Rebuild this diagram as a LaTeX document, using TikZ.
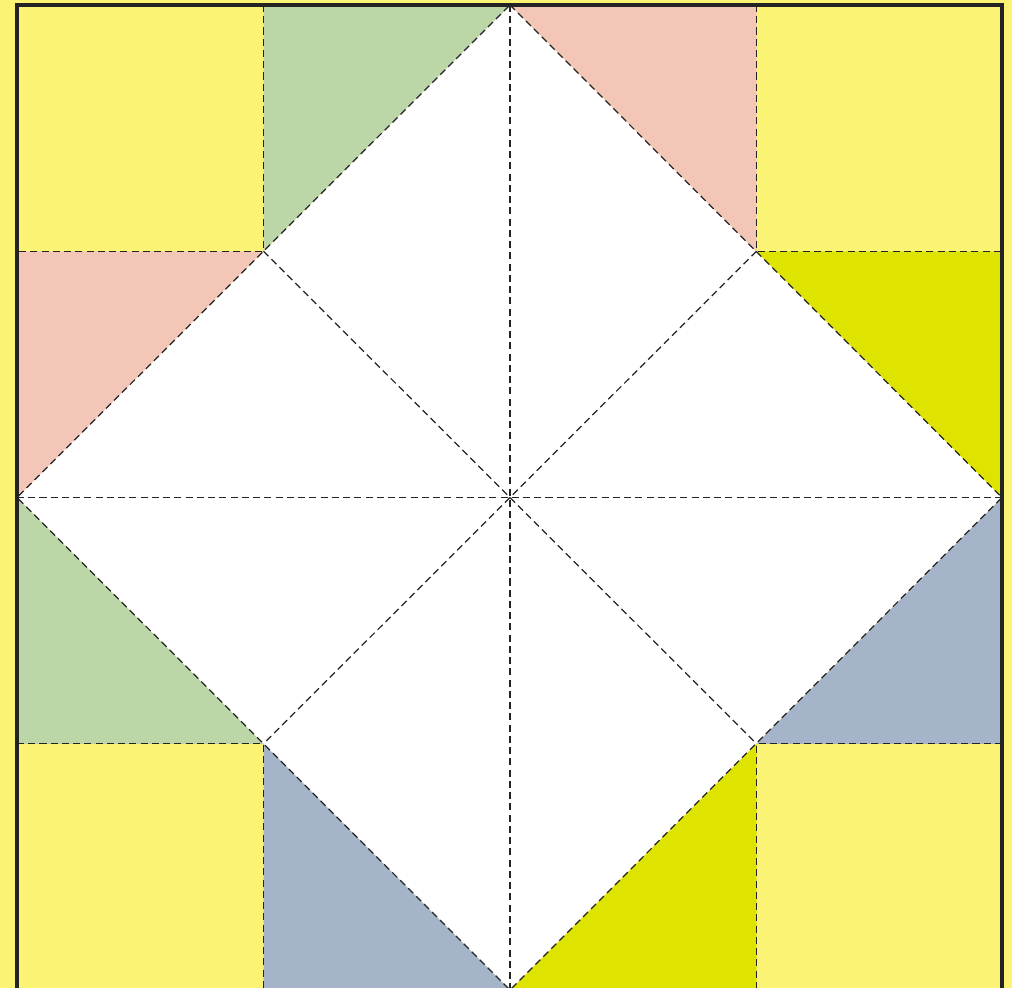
\documentclass[tikz,border=0pt]{standalone}
\definecolor{bgyellow}{RGB}{250,243,115}
\definecolor{pinkc}{RGB}{244,198,184}
\definecolor{greenc}{RGB}{188,214,168}
\definecolor{bluec}{RGB}{166,180,202}
\definecolor{brightc}{RGB}{223,227,0}
\definecolor{borderc}{RGB}{35,35,35}
\tikzset{
  fold/.style={draw=borderc, line width=0.7pt, dash pattern=on 4pt off 2.4pt},
  frame/.style={draw=borderc, line width=2pt},
}
\begin{document}
\begin{tikzpicture}[x=0.02cm,y=-0.02cm]
\useasboundingbox (0,0) rectangle (1012,988);
\clip (0,0) rectangle (1012,988);
\fill[bgyellow] (0,0) rectangle (1012,988);
% coordinates
\coordinate (L) at (17,497.5);
\coordinate (R) at (1002,497.5);
\coordinate (T) at (510,5);
\coordinate (B) at (510,990);
\coordinate (C) at (510,497.5);
\coordinate (a1) at (263.5,251.25);
\coordinate (a2) at (756.5,251.25);
\coordinate (a3) at (263.5,743.75);
\coordinate (a4) at (756.5,743.75);
% white diamond
\fill[white] (T) -- (R) -- (B) -- (L) -- cycle;
% coloured triangles
\fill[greenc] (263.5,5) -- (T) -- (a1) -- cycle;
\fill[pinkc] (T) -- (756.5,5) -- (a2) -- cycle;
\fill[pinkc] (17,251.25) -- (a1) -- (L) -- cycle;
\fill[brightc] (a2) -- (1002,251.25) -- (R) -- cycle;
\fill[greenc] (L) -- (a3) -- (17,743.75) -- cycle;
\fill[bluec] (R) -- (1002,743.75) -- (a4) -- cycle;
\fill[bluec] (a3) -- (B) -- (263.5,990) -- cycle;
\fill[brightc] (a4) -- (756.5,990) -- (B) -- cycle;
% fold lines
\draw[fold] (T) -- (R) -- (B) -- (L) -- cycle;
\draw[fold] (L) -- (R);
\draw[fold] (T) -- (B);
\draw[fold] (a1) -- (a4);
\draw[fold] (a2) -- (a3);
\draw[fold] (263.5,5) -- (a1) -- (17,251.25);
\draw[fold] (756.5,5) -- (a2) -- (1002,251.25);
\draw[fold] (17,743.75) -- (a3) -- (263.5,990);
\draw[fold] (1002,743.75) -- (a4) -- (756.5,990);
% frame
\draw[frame] (17,5) rectangle (1002,990);
\end{tikzpicture}
\end{document}
